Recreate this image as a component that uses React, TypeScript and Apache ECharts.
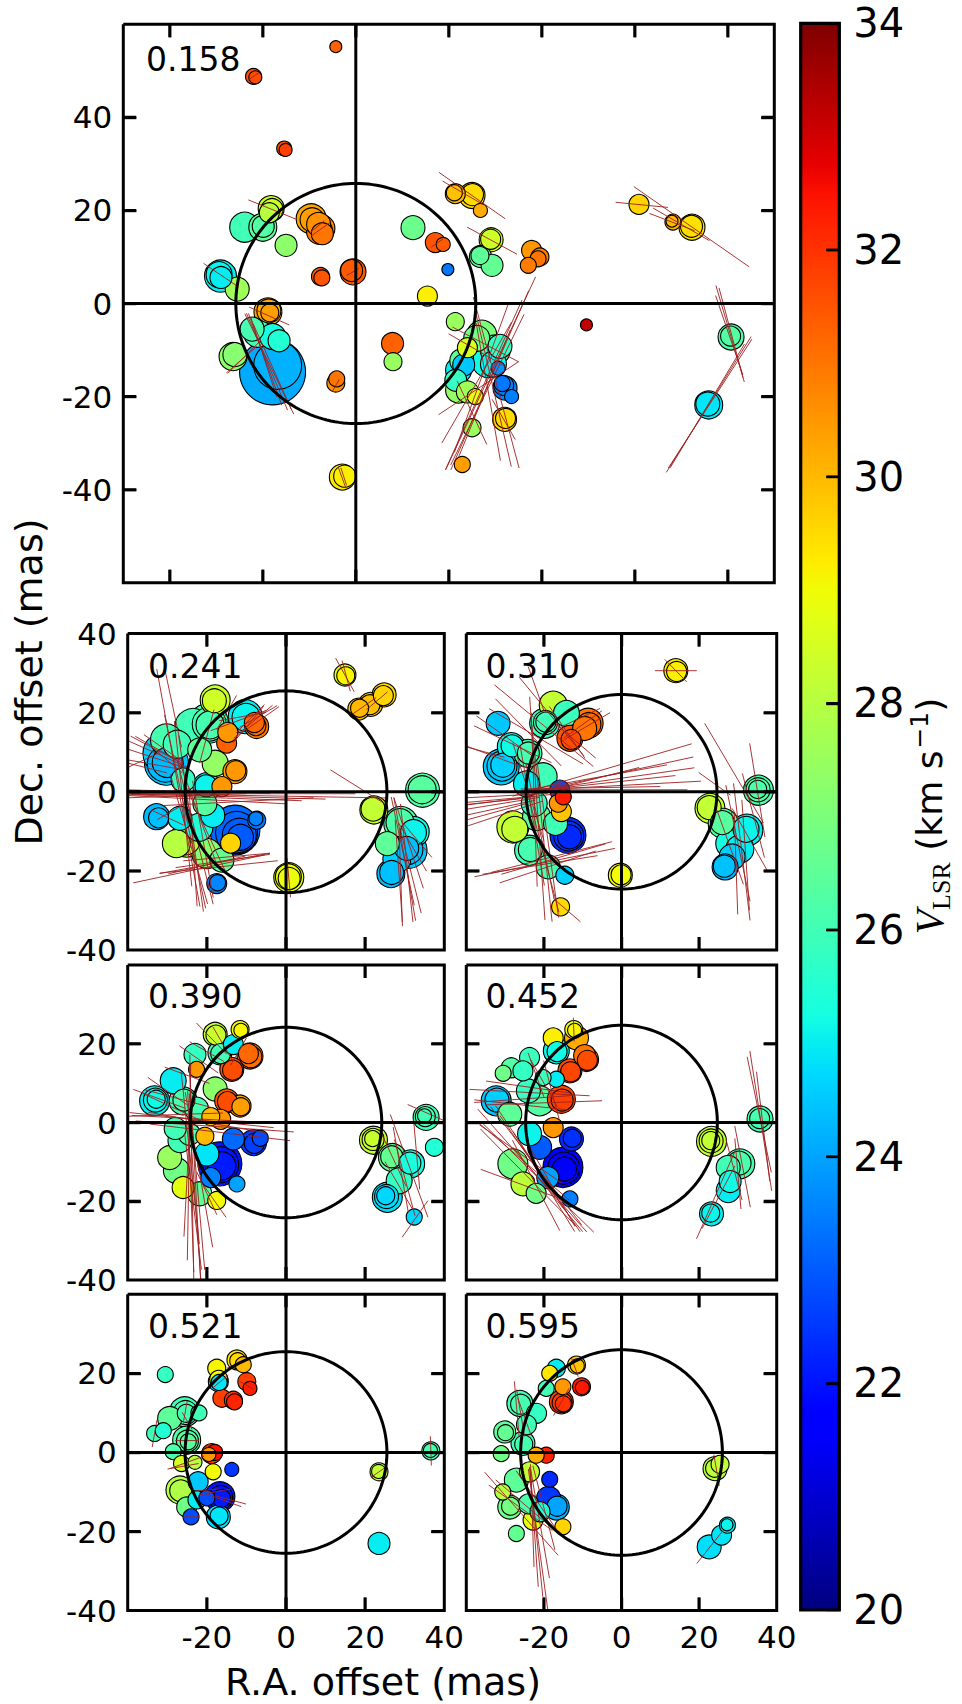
import React, { useEffect, useRef } from 'react';
import * as echarts from 'echarts';

// ---------- DATA ----------
// spot: [RA offset (mas), Dec offset (mas), V_LSR (km/s), relative flux size]
// vector: [RA, Dec, position angle (deg, data frame), length (mas)]
const epochs = ['0.158', '0.241', '0.310', '0.390', '0.452', '0.521', '0.595'];
const ringRadii = [25.8, 25.5, 24.6, 24.2, 24.7, 25.5, 26.0];
const vColorTicks = [20, 22, 24, 26, 28, 30, 32, 34];

const spots158 = [
  [-4.3, 55.2, 31.3, 6], [-22.0, 48.8, 31.6, 8], [-21.6, 48.6, 31.6, 6.5], [-15.4, 33.3, 31.6, 7.5], [-15.1, 33.0, 31.8, 6.5],
  [-18.2, 20.4, 28.3, 13], [-18.0, 20.2, 28.4, 11], [-18.6, 19.5, 28.0, 10], [-23.9, 16.4, 26.0, 15], [-20.0, 16.4, 26.5, 14],
  [-19.9, 16.6, 26.3, 11], [-15.0, 12.5, 27.3, 11], [-9.6, 18.2, 30.3, 15], [-9.4, 18.0, 30.4, 12], [-7.5, 16.1, 30.8, 14],
  [-7.8, 15.5, 30.9, 13], [-8.0, 17.0, 30.6, 12], [-7.2, 15.0, 31.0, 11], [-29.1, 5.9, 25.0, 16], [-29.4, 6.2, 25.1, 13],
  [-29.0, 5.6, 25.0, 11], [-25.5, 3.1, 27.6, 12], [-18.9, -1.8, 30.3, 14], [-18.7, -1.6, 30.2, 12], [-18.5, -2.0, 30.4, 9],
  [-7.6, 5.8, 31.4, 9], [-7.3, 5.5, 31.5, 8], [-0.6, 6.8, 31.4, 13], [-0.9, 7.1, 31.4, 11], [12.3, 16.3, 26.7, 12],
  [17.1, 13.1, 31.5, 10], [18.8, 12.7, 31.4, 7], [19.8, 7.3, 23.4, 6], [15.4, 1.6, 29.2, 10], [21.4, 23.6, 30.0, 10],
  [21.2, 23.8, 29.9, 8], [25.0, 23.2, 29.5, 13], [25.1, 23.4, 29.5, 11], [26.8, 20.0, 30.2, 7], [29.1, 13.7, 28.4, 12],
  [29.0, 13.8, 28.4, 10], [26.8, 10.1, 26.5, 11], [26.7, 10.3, 26.5, 9], [29.3, 8.2, 26.6, 11], [37.8, 11.4, 30.5, 10],
  [39.6, 10.0, 30.9, 9], [39.2, 9.6, 31.0, 8], [37.1, 8.2, 30.9, 8], [60.9, 21.3, 29.6, 10], [68.2, 17.5, 30.1, 8],
  [68.0, 17.7, 30.0, 6], [72.3, 16.4, 29.4, 13], [72.2, 16.6, 29.4, 11], [49.6, -4.6, 33.2, 6], [80.7, -7.2, 26.2, 13],
  [80.6, -7.0, 26.3, 10], [75.9, -21.8, 24.9, 14], [75.7, -21.6, 24.9, 12], [21.4, -3.9, 27.5, 9],
  [27.1, -6.8, 27.0, 15], [26.0, -7.5, 26.8, 13], [30.0, -10.0, 26.0, 15], [31.0, -9.2, 25.8, 12], [24.0, -9.5, 28.6, 10],
  [22.8, -12.3, 26.5, 12], [28.5, -12.5, 25.2, 16], [29.6, -13.0, 25.1, 13], [22.1, -14.3, 25.0, 13], [23.2, -13.2, 24.5, 11],
  [21.5, -16.5, 25.8, 11], [22.1, -18.6, 27.4, 13], [24.0, -19.0, 27.6, 11], [25.7, -20.0, 28.8, 8], [30.6, -13.9, 23.8, 7],
  [32.1, -18.2, 23.6, 12], [31.8, -17.6, 23.5, 10], [31.5, -17.2, 23.4, 8], [33.5, -20.0, 23.5, 7], [32.0, -24.9, 29.6, 12],
  [32.2, -24.7, 29.5, 10], [25.0, -26.7, 27.5, 9], [22.9, -34.6, 30.4, 8],
  [-26.4, -11.4, 27.3, 14], [-26.0, -11.0, 27.2, 12], [-21.1, -6.4, 26.0, 14], [-22.3, -5.5, 26.1, 12], [-17.9, -7.1, 25.3, 13],
  [-16.5, -8.0, 25.5, 11], [-17.9, -14.7, 24.1, 33], [-16.8, -13.3, 24.2, 24], [-4.3, -17.1, 30.6, 9], [-4.1, -16.2, 31.0, 8],
  [7.9, -8.6, 31.3, 11], [8.0, -12.5, 27.5, 9], [-2.9, -37.3, 29.3, 13], [-2.4, -37.1, 29.2, 11],
];
const vec158 = [
  [-29, 6.1, -34, 9], [-18, 20.2, -22, 11], [-18.6, -2.7, -24, 9.4], [-19.1, -12.5, -67, 22.6], [-19.5, -12.0, -70, 21],
  [-18.6, -13.0, -64, 24], [-19.8, -11.5, -72, 18], [-18.0, -13.5, -66, 20], [-24.6, -12.1, 41, 8.6], [-24.0, -11.5, 45, 10],
  [-8.3, 16.5, 40, 4], [-7.5, 16, 35, 5], [-22, 48.8, 35, 3], [-0.6, 6.8, 30, 3], [17.5, 13, 35, 3],
  [-3, -37.3, -70, 4.5], [-2.6, -37.2, -72, 4], [-4.3, -17.6, 60, 3],
  [29, -15, 65, 45.7], [27.5, -17.5, 65.7, 40], [27.7, -19.3, 67.8, 29.4], [28.3, -18.5, 64, 36], [28.8, -16.5, 66.5, 42],
  [26.4, -18.2, 33.5, 20.6], [27.9, -8.8, -27.7, 16.1], [26.0, -10.0, -30, 14], [29.5, -18, -77, 35], [30.2, -17, -75, 38],
  [28.5, -19, -80, 30], [25, -23.5, -65, 15], [31.8, -24.9, -60, 10], [27, -16, 70, 34], [26, -17, 60, 30],
  [75.9, -21.7, 58, 34.4], [76.2, -21.5, 57, 33], [75.6, -22, 59, 31], [80.5, -6.5, -73.6, 21.6], [80.7, -6.3, -75, 20],
  [80.3, -6.8, -71, 18], [61.5, 21.2, -5.6, 11.3], [72.2, 16.5, -34.8, 30.2], [68, 17.5, -21, 10.4], [70, 17, -30, 14],
  [25, 23.2, -35, 17.4], [23, 23.8, -30, 10], [29.3, 13.5, -28.5, 12.2],
];

const spots241 = [
  [14.9, 29.5, 29.0, 11], [15.1, 29.3, 29.1, 9], [18.4, 20.9, 29.9, 11], [18.6, 21.1, 30.0, 9], [21.4, 22.1, 29.8, 12],
  [21.2, 22.0, 29.9, 10], [24.8, 24.5, 29.5, 12], [24.6, 24.3, 29.6, 10], [34.5, 0.4, 26.3, 17], [34.4, 0.5, 26.4, 14],
  [22.2, -4.6, 28.3, 14], [22.0, -4.4, 28.2, 12], [29.0, -8.0, 26.3, 17], [28.8, -7.8, 26.2, 14], [32.4, -10.1, 25.2, 15],
  [32.2, -10.3, 25.1, 13], [31.1, -14.8, 24.5, 18], [30.8, -14.6, 24.4, 15], [30.5, -14.3, 24.4, 12], [26.5, -20.7, 24.3, 14],
  [26.7, -20.4, 24.4, 12], [25.6, -13.1, 26.5, 12], [28.0, -17.0, 24.6, 14], [0.7, -21.7, 28.8, 15], [0.6, -21.5, 28.9, 13],
  [0.8, -21.9, 28.9, 11], [-12.9, -9.7, 23.2, 25], [-12.5, -10.3, 23.1, 21], [-11.8, -11.0, 23.0, 17], [-11.5, -11.5, 23.0, 13],
  [-7.4, -7.2, 23.4, 9], [-7.6, -6.8, 23.5, 7], [-32.7, -6.3, 24.3, 13], [-32.2, -6.6, 24.4, 10], [-26.8, -6.7, 25.0, 12],
  [-25.1, -12.2, 27.8, 17], [-25.3, -12.4, 27.9, 14], [-27.7, -13.1, 28.0, 14], [-20.0, -15.6, 27.2, 15], [-16.2, -17.3, 26.6, 12],
  [-17.5, -23.2, 23.5, 10], [-17.3, -23.0, 23.6, 8], [-22.0, -9.0, 25.5, 14], [-18.5, -6.0, 25.0, 12], [-20.5, -3.0, 26.4, 12],
  [-30.2, 7.2, 24.4, 22], [-30.5, 7.0, 24.3, 18], [-30.0, 7.4, 24.3, 15], [-31.1, 9.7, 24.6, 20], [-30.2, 13.1, 26.1, 16],
  [-27.5, 12.0, 26.0, 14], [-23.5, 16.5, 26.0, 18], [-17.9, 23.2, 28.3, 15], [-18.1, 23.0, 28.4, 12], [-19.6, 17.3, 26.0, 20],
  [-19.4, 17.1, 26.1, 17], [-19.2, 16.9, 26.1, 14], [-10.3, 19.0, 25.0, 17], [-10.1, 18.8, 25.1, 14], [-7.4, 16.5, 31.0, 12],
  [-7.6, 16.7, 31.1, 10], [-8.0, 17.5, 31.2, 10], [-15.0, 12.3, 31.3, 10], [-14.7, 15.0, 30.5, 10], [-12.9, 5.1, 30.4, 12],
  [-12.7, 5.3, 30.5, 10], [-17.9, 7.2, 27.4, 13], [-20.0, 1.3, 25.0, 14], [-20.2, 1.5, 25.1, 11], [-16.2, 1.3, 30.5, 10],
  [-21.8, 10.6, 26.5, 12], [-26.0, 3.0, 25.8, 12], [-14.0, -13.0, 29.6, 10],
];
const vec241 = [
  [-7, -1.0, -1, 65], [-10, -0.5, 0, 55], [-18, -1.5, -2, 44], [-22, 0, -1.5, 36], [-25, -1.0, 2, 30], [-20, -2, -3, 40],
  [-15, -1.2, -1.5, 50], [-28, -0.5, 1, 22], [-12, -2.5, 3, 38],
  [-27.2, 1, -79.7, 61], [-25.5, -5, -78, 50], [-24, -8, -82, 45], [-23, -10, -76, 38], [-26, -3, -84, 42], [-21, -12, -80, 30],
  [-22, -6, -70, 28], [-24.5, -12, -74, 34], [-23.5, -14, -86, 30], [-20.5, -9, -65, 24],
  [-32.3, 9.5, -24, 16], [-33, 8.5, -18, 18], [-32, 10.5, -30, 14], [-34, 7, -10, 14], [-31, 11, -35, 12],
  [-33.5, 11, -28, 13], [-35, 6, -14, 10], [-30, 8, -40, 10],
  [-28.5, 21, -78, 20], [-8, 18, 40, 12], [-7.5, 17.5, 35, 14], [-9, 18.5, 45, 10], [-7, 19, 30, 11], [-12, 18, 20, 15],
  [-9.5, 17, 50, 12], [-11, 19, 10, 12], [-15, 20, 60, 10], [-20, 14, 75, 14],
  [-18, -18.1, 10.4, 28.4], [-16, -17.5, 8, 24], [-20, -18.5, 13, 20], [-15, -16.5, 5, 22], [-22, -19.5, 12, 34], [-17, -19, 6, 30],
  [18, 1.3, -32, 16], [30, -17, -80, 31.7],
  [29.5, -15, -78, 28], [30.5, -18, -84, 30], [31, -13, -72, 24], [28.5, -20, -86, 26], [32, -14, -60, 14],
  [29, -22, -88, 24], [31.5, -20, -76, 22], [33, -12, -50, 12],
  [14.9, 29.5, -61, 9.7], [15.2, 29.3, -75, 8], [19.5, 21.5, 35, 8], [23, 23, 40, 7], [0.7, -21.7, -85, 10],
  [-30, -6.5, -25, 9], [-29, -5, 30, 8], [-36, 8, 25, 9],
];

const spots310 = [
  [14.0, 30.6, 29.3, 12], [14.2, 30.4, 29.2, 10], [35.3, 0.4, 26.2, 15], [35.2, 0.5, 26.3, 12], [35.1, 0.6, 26.2, 9],
  [22.8, -4.2, 28.3, 15], [22.6, -4.0, 28.2, 12], [26.2, -8.0, 26.3, 15], [26.0, -7.8, 26.4, 12], [32.3, -9.7, 25.0, 16],
  [32.1, -9.5, 25.1, 13], [27.9, -13.1, 25.3, 14], [30.5, -14.5, 25.0, 14], [28.5, -16.5, 24.6, 13], [26.7, -19.0, 24.3, 13],
  [26.5, -18.8, 24.4, 11], [-0.3, -21.1, 29.1, 12], [-0.1, -21.0, 29.0, 10], [-15.7, -29.1, 29.5, 9], [-14.6, -21.1, 24.6, 9],
  [-13.8, -11.0, 22.4, 18], [-13.6, -11.2, 22.4, 15], [-13.4, -11.4, 22.3, 12], [-15.9, 0.4, 22.8, 10], [-15.0, -1.3, 32.3, 8],
  [-16.3, -2.9, 30.5, 9], [-28.0, -8.9, 28.3, 16], [-27.5, -9.5, 28.2, 13], [-23.7, -14.8, 26.1, 15], [-23.5, -14.6, 26.1, 12],
  [-18.9, -19.0, 26.1, 12], [-21.9, -6.3, 26.5, 14], [-22.5, -3.0, 25.8, 13], [-31.8, 17.3, 24.5, 12], [-28.4, 11.4, 25.1, 14],
  [-28.2, 11.6, 25.2, 11], [-31.0, 6.3, 24.5, 18], [-30.8, 6.5, 24.5, 15], [-30.6, 6.7, 24.6, 12], [-24.1, 9.7, 26.0, 14],
  [-24.0, 9.8, 26.1, 11], [-19.8, 17.3, 25.9, 15], [-19.6, 17.5, 26.0, 12], [-19.5, 17.6, 26.0, 10], [-17.6, 21.9, 28.2, 14],
  [-14.2, 19.8, 25.9, 13], [-8.6, 17.3, 31.0, 15], [-8.4, 17.0, 31.2, 12], [-9.5, 16.0, 31.0, 12], [-13.3, 13.5, 31.5, 13],
  [-13.0, 13.2, 31.6, 10], [-20.2, 3.8, 26.0, 14], [-24.5, 2.0, 25.0, 13], [-17.0, -8.0, 26.0, 12], [-15.5, -5.0, 29.8, 10],
];
const vec310 = [
  [-3, 3, 8, 44], [-4, 4, 12, 46], [-6, 2, 6, 40], [-2, 1.5, 3, 45], [-8, 1, 1, 36], [-5, 5.5, 16, 48],
  [-7, 3.5, 10, 38], [-10, 2.5, 14, 30], [-4, 0.5, 0, 42],
  [-32, -2, 5, 18], [-31, -3, 9, 20], [-30, -1, 3, 22], [-31, -4, 12, 18], [-32, -5, 15, 16], [-33, -2.5, 6, 14],
  [-30, -5.5, 18, 20], [-29, -2, 7, 24],
  [-19.8, -17.9, 11.2, 36.9], [-18, -16.5, 14, 32], [-21, -18.5, 9, 30], [-17.5, -17, 16, 28], [-19, -19, 18, 26],
  [-21.7, -4.2, -86, 56.6], [-20.5, -8, -84, 50], [-22.5, -2, -88, 44], [-19, -12, -82, 40], [-21, -10, -78, 35],
  [-23, -6, -80, 36], [-20, -16, -75, 30], [-24, 0, -72, 26],
  [-20, 16.7, -39, 32.8], [-22, 14, -30, 28], [-28, 12, -25, 22], [-33, 9, -20, 16], [-18, 19, -50, 26],
  [-24, 15, -45, 24], [-30, 14, -35, 18], [-35, 10, -15, 10],
  [-10, 17, 35, 12], [-9, 16.5, 30, 14], [-12, 13, -40, 14], [-22, 26, -70, 12], [-11, 18.5, 25, 12], [-14, 15, -55, 16],
  [29, 4.7, -59, 29.4], [35, 0.4, -80.6, 24], [31, -15.2, -83, 34.9], [30, -13, -78, 30], [32, -16, -86, 28],
  [28, -14, -70, 20], [33, -12, -60, 18], [29.5, -18, -88, 26], [34, -6, -75, 22],
  [14, 30.6, 0, 10.8], [14, 30.6, -45, 8], [-14, -30, -40, 9], [24, 2, -35, 10],
];

const spots390 = [
  [-11.6, 23.6, 29.0, 9], [-11.4, 23.4, 29.1, 7], [-17.9, 22.4, 28.2, 12], [-17.7, 22.2, 28.3, 10], [-16.7, 17.7, 25.9, 12],
  [-16.5, 17.5, 26.0, 10], [-23.0, 17.3, 25.8, 11], [-13.3, 19.8, 25.0, 10], [-9.1, 16.9, 31.0, 13], [-8.9, 16.7, 31.1, 11],
  [-9.5, 17.5, 31.2, 10], [-13.7, 13.5, 31.5, 12], [-13.5, 13.3, 31.6, 10], [-22.6, 13.5, 30.5, 8], [-28.5, 10.6, 25.0, 13],
  [-33.2, 5.5, 25.0, 15], [-33.0, 5.7, 25.1, 12], [-32.8, 5.9, 25.2, 9], [-26.0, 5.5, 26.0, 14], [-25.8, 5.7, 26.1, 11],
  [-17.9, 8.5, 27.3, 12], [-22.6, 3.4, 26.1, 12], [-15.0, 5.5, 31.5, 12], [-14.8, 5.3, 31.6, 10], [-11.6, 4.2, 30.3, 11],
  [-11.4, 4.0, 30.4, 9], [-16.5, 0.8, 30.5, 10], [-19.0, 1.5, 30.0, 9], [-13.3, -4.2, 23.2, 11], [-8.2, -5.1, 22.5, 13],
  [-8.0, -5.3, 22.6, 10], [-6.5, -4.0, 22.8, 8], [-16.7, -10.5, 22.0, 22], [-16.5, -10.7, 22.0, 18], [-16.2, -11.0, 22.1, 14],
  [-12.4, -15.6, 24.0, 8], [-29.4, -8.9, 27.5, 12], [-26.0, -16.5, 28.8, 11], [-27.7, -12.2, 26.8, 13], [-21.8, -18.1, 26.5, 12],
  [-17.5, -19.8, 29.0, 9], [-20.0, -8.0, 24.9, 12], [-26.8, -4.6, 26.0, 12], [-24.4, -3.0, 26.2, 11], [-28.0, -1.5, 26.0, 11],
  [-20.5, -3.5, 30.0, 9], [-19.0, -14.0, 23.5, 10], [22.1, -4.5, 28.3, 14], [22.0, -4.3, 28.2, 11], [21.9, -4.1, 28.3, 8],
  [26.9, -8.9, 26.5, 14], [26.7, -8.7, 26.6, 11], [31.5, -10.5, 25.2, 14], [31.3, -10.3, 25.3, 11], [28.6, -14.8, 25.8, 13],
  [25.6, -19.0, 24.8, 15], [25.4, -18.8, 24.8, 12], [25.2, -18.6, 24.7, 9], [32.4, -24.0, 24.7, 8], [35.4, 1.3, 26.0, 13],
  [35.2, 1.5, 26.1, 10], [35.0, 1.7, 26.0, 7], [37.5, -6.3, 25.5, 9],
];
const vec390 = [
  [-23.8, -11.3, -89, 57], [-23.0, -13, -87, 54], [-24.5, -10, -91, 50], [-22.5, -15, -85, 45], [-24, -18, -88, 40],
  [-23.5, -20, -83, 35], [-22, -12, -80, 40], [-25, -14, -93, 30], [-23.2, -16, -86, 48], [-24.2, -9, -84, 44],
  [-21.3, 0.6, -6, 36.6], [-16.7, -2.5, -6.8, 35.7], [-24, 1, -3, 30], [-20, 0, -10, 30], [-28, 2, 2, 24], [-18, -1, -4, 40],
  [-18.8, 21.3, -46, 11], [-20, 18, -30, 10], [-25, 12, -20, 12], [-12, 18, 60, 8], [-16, 20, -60, 10], [-22, 16, -35, 12],
  [-32, 6, -20, 14], [-30, 8, -35, 12], [-27, 6, -15, 18], [-29, 4, -25, 16],
  [31.1, -11, -70, 27.8], [32.6, -24.5, 55, 11.3], [35.4, 2.5, -24, 10.2], [29, -12, -80, 22], [30, -14, -75, 20],
  [27, -9, -65, 16], [33, -8, -85, 18], [28.5, -16, -60, 14], [-18, -20, -55, 10], [-20, -18, -65, 12],
];

const spots452 = [
  [-12.3, 23.6, 29.0, 9], [-12.1, 23.4, 29.1, 7], [-17.6, 21.5, 29.2, 10], [-11.6, 21.5, 30.2, 12], [-9.0, 16.0, 31.5, 12],
  [-8.8, 15.8, 31.6, 10], [-9.5, 17.0, 31.0, 11], [-13.3, 13.1, 31.6, 12], [-13.1, 12.9, 31.7, 10], [-16.8, 18.2, 25.1, 13],
  [-16.6, 18.0, 25.2, 10], [-23.7, 16.5, 25.9, 10], [-28.4, 13.9, 26.3, 10], [-30.5, 12.5, 26.8, 8], [-25.4, 13.1, 25.8, 10],
  [-16.8, 11.0, 25.0, 8], [-20.2, 11.4, 25.9, 8], [-15.5, 5.9, 31.7, 14], [-15.3, 5.7, 31.8, 11], [-32.3, 5.5, 24.5, 15],
  [-32.1, 5.7, 24.6, 12], [-21.1, 5.5, 26.3, 15], [-28.8, 2.1, 26.5, 12], [-24.0, 8.0, 25.8, 12], [-17.6, -1.3, 30.5, 10],
  [-12.9, -4.2, 22.3, 12], [-12.7, -4.0, 22.4, 9], [-21.1, -6.3, 23.0, 12], [-15.1, -11.4, 21.5, 20], [-14.9, -11.6, 21.5, 16],
  [-14.7, -11.8, 21.6, 12], [-28.0, -10.5, 26.8, 15], [-25.4, -15.6, 28.1, 12], [-22.0, -18.0, 26.8, 10], [-13.3, -19.4, 23.5, 8],
  [-23.7, -2.9, 25.1, 12], [-19.0, -14.0, 24.0, 11], [23.2, -4.8, 28.2, 15], [23.1, -4.7, 28.3, 12], [23.0, -4.6, 28.2, 9],
  [30.5, -10.5, 26.1, 15], [30.3, -10.3, 26.2, 12], [27.5, -11.4, 26.0, 12], [27.5, -17.3, 25.0, 12], [28.0, -15.0, 25.2, 11],
  [23.2, -23.2, 25.0, 12], [23.0, -23.0, 25.1, 9], [35.7, 0.9, 26.0, 13], [35.6, 1.0, 26.1, 10],
];
const vec452 = [
  [35.9, 0.4, -81, 36], [35.5, 2, -78, 30], [36.5, -1, -83, 28], [31.2, -11.2, -79, 21], [30, -13, -85, 18], [29, -12, -75, 16],
  [24.3, -18.4, 66, 24.4], [25, -19, 62, 18], [-23, -12.2, -48, 42], [-22, -11, -52, 38], [-24, -14, -45, 35], [-21, -13, -55, 36],
  [-20, -15, -58, 30], [-25, -10, -40, 30], [-19, -17, -50, 28], [-22, -16, -62, 26], [-21.5, -14, -44, 40], [-23.5, -9, -56, 32],
  [-18, -16, -60, 24], [-26, -8, -35, 26], [-23.7, 7.6, -3, 31], [-25, 6, 4, 26],
  [-26, 4.5, -6, 24], [-20, 5, 2, 30], [-24, 9, -8, 22], [-12.3, 23.6, -88, 6], [-20, 10, -60, 14], [-22, 12, -70, 12],
  [-25, -16, -20, 24], [-18, 8, -75, 16],
];

const spots521 = [
  [-30.5, 19.7, 25.8, 8], [-17.5, 21.3, 29.1, 9], [-12.4, 23.4, 29.3, 10], [-12.2, 23.2, 29.5, 8], [-10.8, 22.2, 30.0, 8],
  [-17.1, 17.9, 24.8, 10], [-16.9, 17.7, 24.9, 8], [-17.0, 18.5, 29.0, 9], [-9.9, 17.9, 31.8, 9], [-9.1, 16.2, 32.3, 7],
  [-16.2, 13.7, 31.8, 9], [-13.3, 13.2, 32.0, 9], [-13.0, 12.8, 32.2, 8], [-25.6, 10.3, 26.0, 15], [-25.4, 10.1, 26.1, 12],
  [-25.2, 9.9, 26.1, 9], [-29.4, 8.6, 26.5, 12], [-22.0, 10.0, 26.0, 8], [-33.2, 4.8, 26.0, 8], [-31.0, 5.5, 25.5, 8],
  [-25.1, 3.1, 26.3, 14], [-24.9, 2.9, 26.4, 11], [-24.7, 2.7, 26.4, 8], [-28.5, 0.2, 26.2, 8], [-18.8, -0.3, 32.0, 10],
  [-18.0, 0.0, 32.5, 8], [-19.5, -0.5, 30.5, 7], [-26.4, -2.8, 28.5, 8], [-23.0, -2.5, 28.0, 7], [-18.4, -4.9, 29.0, 8],
  [-13.7, -4.3, 22.5, 7], [-22.2, -7.4, 24.5, 10], [-26.8, -9.5, 28.0, 14], [-26.6, -9.7, 27.9, 11], [-16.7, -11.2, 22.0, 15],
  [-16.5, -11.4, 22.0, 12], [-16.3, -11.6, 22.1, 9], [-20.0, -11.5, 22.8, 8], [-25.1, -13.8, 26.8, 10], [-17.1, -16.3, 24.8, 12],
  [-16.9, -16.1, 24.9, 9], [-24.0, -16.3, 22.8, 8], [-22.5, -12.0, 25.0, 9], [23.5, -4.9, 28.3, 9], [23.4, -4.8, 28.2, 7],
  [36.6, 0.4, 26.0, 9], [36.5, 0.5, 26.1, 7], [23.5, -23.0, 25.0, 11],
];
const vec521 = [
  [-25, -2.5, 20, 9], [-26, -3.5, 10, 8], [-25.5, 10, 80, 6], [-25, 8, -60, 5], [-33.2, 4.8, 80, 7], [-25, 3, 0, 6],
  [-18, -10, 10, 8], [-16, -12, -20, 10], [-14, -12, -15, 8], [-20, -9.5, 5, 6], [-24, -16.3, 0, 4], [-12, 22.5, 20, 6],
  [-16.5, 18, 40, 5], [-10, 17, -30, 4], [36.6, 0.4, -88, 7.4], [23.5, -4.9, 35, 5],
];

const spots595 = [
  [-11.6, 22.1, 29.7, 9], [-11.4, 21.9, 29.8, 7], [-16.8, 21.3, 25.0, 9], [-18.5, 20.0, 29.3, 8], [-10.3, 16.6, 32.3, 9],
  [-10.1, 16.4, 32.4, 7], [-15.1, 16.6, 30.5, 8], [-19.4, 16.2, 26.0, 8], [-15.5, 12.8, 31.8, 12], [-15.3, 12.6, 31.9, 10],
  [-15.0, 12.3, 32.0, 8], [-26.2, 12.4, 26.0, 13], [-26.0, 12.2, 26.1, 10], [-21.9, 9.9, 25.8, 10], [-24.5, 7.0, 26.0, 10],
  [-30.1, 5.2, 26.5, 11], [-29.9, 5.0, 26.6, 8], [-25.4, 2.3, 26.0, 12], [-25.2, 2.1, 26.1, 9], [-31.0, -0.3, 26.8, 8],
  [-19.4, -0.7, 32.2, 8], [-22.0, -0.7, 30.2, 8], [-23.7, -4.9, 28.2, 10], [-18.5, -6.8, 22.3, 8], [-27.1, -7.0, 26.5, 12],
  [-16.8, -13.8, 24.2, 13], [-16.6, -13.6, 24.0, 10], [-18.8, -11.6, 22.5, 12], [-28.8, -13.8, 26.8, 12], [-28.6, -13.6, 26.9, 9],
  [-22.8, -17.1, 28.8, 10], [-27.1, -20.5, 26.6, 8], [-15.1, -18.8, 29.6, 8], [-30.6, -10.0, 28.0, 8], [-24.0, -13.0, 26.2, 10],
  [-21.0, -15.0, 25.5, 10], [24.1, -4.1, 28.0, 12], [24.0, -4.0, 28.1, 9], [25.4, -3.0, 28.2, 9], [27.3, -18.4, 25.0, 8],
  [27.2, -18.3, 25.1, 6], [25.8, -20.9, 24.9, 10], [22.6, -23.9, 24.8, 12],
];
const vec595 = [
  [-22, -20.1, -84, 33], [-21.5, -22, -82, 36], [-22.5, -19, -86, 30], [-21, -18, -80, 28], [-23, -16, -88, 26],
  [-25.8, -15.5, -48, 28.3], [-24, -14, -40, 22], [-26, -14, -35, 20], [-22, -12, -55, 18], [-26, 10, -80, 12],
  [-25, 9, -70, 10], [-27, 11, -85, 14], [22.8, -23.9, 51, 10.8], [24.5, -4.5, -80, 8], [-15.5, 12.8, 60, 8],
  [-12, 21.5, -70, 5], [-20, -14, -75, 22],
];

const allSpots = [spots158, spots241, spots310, spots390, spots452, spots521, spots595];
const allVecs = [vec158, vec241, vec310, vec390, vec452, vec521, vec595];

// ---------- LAYOUT ----------
const FONT = 'DejaVu Sans';
const VMIN = 20, VMAX = 34;
const TICK = 13;
const layout = [
  { box: [123.3, 24.3, 651, 558.4], x: [-50, 90], y: [-60, 60], xT: [-40, -20, 0, 20, 40, 60, 80], yT: [-40, -20, 0, 20, 40], xL: null, yL: [-40, -20, 0, 20, 40], lab: [146, 59] },
  { box: [127.7, 633.5, 316.6, 316.5], x: [-40, 40], y: [-40, 40], xT: [-20, 0, 20], yT: [-20, 0, 20], xL: null, yL: [-40, -20, 0, 20, 40], lab: [148, 666] },
  { box: [466.3, 633.5, 310.4, 316.5], x: [-40, 40], y: [-40, 40], xT: [-20, 0, 20], yT: [-20, 0, 20], xL: null, yL: null, lab: [485.5, 666] },
  { box: [127.7, 965, 316.6, 315], x: [-40, 40], y: [-40, 40], xT: [-20, 0, 20], yT: [-20, 0, 20], xL: null, yL: [-40, -20, 0, 20], lab: [148, 996] },
  { box: [466.3, 965, 310.4, 315], x: [-40, 40], y: [-40, 40], xT: [-20, 0, 20], yT: [-20, 0, 20], xL: null, yL: null, lab: [485.5, 996] },
  { box: [127.7, 1294.3, 316.6, 316.3], x: [-40, 40], y: [-40, 40], xT: [-20, 0, 20], yT: [-20, 0, 20], xL: [-20, 0, 20, 40], yL: [-40, -20, 0, 20], lab: [148, 1326] },
  { box: [466.3, 1294.3, 310.4, 316.3], x: [-40, 40], y: [-40, 40], xT: [-20, 0, 20], yT: [-20, 0, 20], xL: [-20, 0, 20, 40], yL: null, lab: [485.5, 1326] },
];
const cbBox = [800.7, 23.3, 38.6, 1586.7];

// matplotlib "jet"
const JR = [[0, 0], [0.35, 0], [0.66, 1], [0.89, 1], [1, 0.5]];
const JG = [[0, 0], [0.125, 0], [0.375, 1], [0.64, 1], [0.91, 0], [1, 0]];
const JB = [[0, 0.5], [0.11, 1], [0.34, 1], [0.65, 0], [1, 0]];
function seg(t: number, pts: number[][]) {
  for (let i = 1; i < pts.length; i++) {
    if (t <= pts[i][0]) {
      const [t0, v0] = pts[i - 1], [t1, v1] = pts[i];
      return v0 + ((t - t0) / (t1 - t0)) * (v1 - v0);
    }
  }
  return pts[pts.length - 1][1];
}
function jetT(t: number) {
  const c = Math.max(0, Math.min(1, t));
  return `rgb(${Math.round(seg(c, JR) * 255)},${Math.round(seg(c, JG) * 255)},${Math.round(seg(c, JB) * 255)})`;
}
const jet = (v: number) => jetT((v - VMIN) / (VMAX - VMIN));

function combPoints(api: any, p: any) {
  const pts: number[][] = [];
  const [x0, x1] = p.x, [y0, y1] = p.y;
  pts.push(api.coord([x0, y1]));
  p.xT.forEach((v: number) => { const c = api.coord([v, y1]); pts.push(c, [c[0], c[1] + TICK], c); });
  pts.push(api.coord([x1, y1]));
  [...p.yT].reverse().forEach((v: number) => { const c = api.coord([x1, v]); pts.push(c, [c[0] - TICK, c[1]], c); });
  pts.push(api.coord([x1, y0]));
  [...p.xT].reverse().forEach((v: number) => { const c = api.coord([v, y0]); pts.push(c, [c[0], c[1] - TICK], c); });
  pts.push(api.coord([x0, y0]));
  p.yT.forEach((v: number) => { const c = api.coord([x0, v]); pts.push(c, [c[0] + TICK, c[1]], c); });
  pts.push(api.coord([x0, y1]));
  return pts;
}

function buildOption() {
  const grid: any[] = [], xAxis: any[] = [], yAxis: any[] = [], series: any[] = [];
  const lab = { color: '#000', fontSize: 31, fontFamily: FONT };
  const tickStyle = { show: true, inside: true, length: TICK, lineStyle: { color: '#000', width: 2.4 } };
  const helper = (gi: number, lo: number, hi: number) => ({ type: 'value', gridIndex: gi, min: lo, max: hi, show: false });

  layout.forEach((p, i) => {
    grid.push({ left: p.box[0], top: p.box[1], width: p.box[2], height: p.box[3], show: false, containLabel: false, outerBoundsMode: 'none' });
    const xb = xAxis.length, yb = yAxis.length;
    // main axes (labels only)
    xAxis.push({
      type: 'value', gridIndex: i, position: 'bottom', min: p.x[0], max: p.x[1],
      axisLine: { show: false, onZero: false }, splitLine: { show: false }, axisTick: { show: false },
      axisLabel: p.xL ? { ...lab, margin: 11, customValues: p.xL } : { show: false },
    });
    yAxis.push({
      type: 'value', gridIndex: i, position: 'left', min: p.y[0], max: p.y[1],
      axisLine: { show: false, onZero: false }, splitLine: { show: false }, axisTick: { show: false },
      axisLabel: p.yL ? { ...lab, margin: 11, customValues: p.yL } : { show: false },
    });
    // hidden helper axes whose zero sits on a frame edge
    xAxis.push(helper(i, 0, 1));   // xb+1 : zero at left edge
    xAxis.push(helper(i, -1, 0));  // xb+2 : zero at right edge
    yAxis.push(helper(i, 0, 1));   // yb+1 : zero at bottom edge
    yAxis.push(helper(i, -1, 0));  // yb+2 : zero at top edge
    // tick-only axes pinned to the frame edges through onZero
    const tx = (pos: string, zi: number) => ({
      type: 'value', gridIndex: i, position: pos, min: p.x[0], max: p.x[1], z: 8,
      axisLine: { show: false, onZero: true, onZeroAxisIndex: zi }, splitLine: { show: false },
      axisTick: { ...tickStyle, customValues: p.xT }, axisLabel: { show: false },
    });
    const ty = (pos: string, zi: number) => ({
      type: 'value', gridIndex: i, position: pos, min: p.y[0], max: p.y[1], z: 8,
      axisLine: { show: false, onZero: true, onZeroAxisIndex: zi }, splitLine: { show: false },
      axisTick: { ...tickStyle, customValues: p.yT }, axisLabel: { show: false },
    });
    xAxis.push(tx('bottom', yb + 1));
    xAxis.push(tx('top', yb + 2));
    yAxis.push(ty('left', xb + 1));
    yAxis.push(ty('right', xb + 2));

    series.push({
      type: 'scatter', xAxisIndex: xb, yAxisIndex: yb, z: 2, silent: true, clip: true,
      data: [...allSpots[i]].sort((a, b) => b[3] - a[3]),
      symbol: 'circle', symbolSize: (v: number[]) => v[3] * 2,
      itemStyle: { color: (pr: any) => jet(pr.value[2]), borderColor: '#000', borderWidth: 1.1, opacity: 1 },
    });
    series.push({
      type: 'custom', xAxisIndex: xb, yAxisIndex: yb, z: 3, silent: true, clip: true,
      data: allVecs[i],
      encode: { x: 0, y: 1 },
      renderItem: (_: any, api: any) => {
        const x = api.value(0), y = api.value(1), a = (api.value(2) * Math.PI) / 180, h = api.value(3) / 2;
        const p1 = api.coord([x - Math.cos(a) * h, y - Math.sin(a) * h]);
        const p2 = api.coord([x + Math.cos(a) * h, y + Math.sin(a) * h]);
        return { type: 'line', shape: { x1: p1[0], y1: p1[1], x2: p2[0], y2: p2[1] }, style: { stroke: 'rgba(160,32,32,0.9)', lineWidth: 1 } };
      },
    });
    series.push({
      type: 'custom', xAxisIndex: xb, yAxisIndex: yb, z: 4, silent: true, clip: false,
      data: [[0, 0, ringRadii[i]]],
      encode: { x: 0, y: 1 },
      renderItem: (_: any, api: any) => {
        const r = api.value(2);
        const pts: number[][] = [];
        for (let k = 0; k <= 180; k++) {
          const t = (k / 180) * Math.PI * 2;
          pts.push(api.coord([r * Math.cos(t), r * Math.sin(t)]));
        }
        const l = api.coord([p.x[0], 0]), rr = api.coord([p.x[1], 0]);
        const tp = api.coord([0, p.y[1]]), bt = api.coord([0, p.y[0]]);
        const ls = { stroke: '#000', lineWidth: 3, fill: 'none' };
        return {
          type: 'group', children: [
            { type: 'line', shape: { x1: l[0], y1: l[1], x2: rr[0], y2: rr[1] }, style: ls },
            { type: 'line', shape: { x1: tp[0], y1: tp[1], x2: bt[0], y2: bt[1] }, style: ls },
            { type: 'polyline', shape: { points: pts }, style: ls },
            { type: 'polyline', shape: { points: combPoints(api, p) }, style: { stroke: '#000', lineWidth: 3, fill: 'none' } },
          ],
        };
      },
    });
  });

  // colour bar
  const ci = layout.length;
  grid.push({ left: cbBox[0], top: cbBox[1], width: cbBox[2], height: cbBox[3], show: false, containLabel: false, outerBoundsMode: 'none' });
  const cxb = xAxis.length, cyb = yAxis.length;
  xAxis.push({ type: 'value', gridIndex: ci, min: 0, max: 1, show: false });
  xAxis.push(helper(ci, -1, 0)); // zero at right edge
  yAxis.push({
    type: 'value', gridIndex: ci, min: VMIN, max: VMAX, interval: 2, position: 'right', z: 8,
    axisLine: { show: false, onZero: true, onZeroAxisIndex: cxb + 1 }, splitLine: { show: false },
    axisTick: { ...tickStyle, customValues: vColorTicks },
    axisLabel: { color: '#000', fontSize: 40, fontFamily: FONT, margin: 14, customValues: vColorTicks },
  });
  const stops: any[] = [];
  for (let k = 0; k <= 56; k++) stops.push({ offset: k / 56, color: jetT(1 - k / 56) });
  series.push({
    type: 'custom', xAxisIndex: cxb, yAxisIndex: cyb, z: 2, silent: true, clip: false,
    data: [[0, VMIN]], encode: { x: 0, y: 1 },
    renderItem: (_: any, api: any) => {
      const a = api.coord([0, VMAX]), b = api.coord([1, VMIN]);
      const edge: number[][] = [api.coord([1, VMAX])];
      [...vColorTicks.slice(1, -1)].reverse().forEach((v) => { const c = api.coord([1, v]); edge.push(c, [c[0] - TICK, c[1]], c); });
      edge.push(api.coord([1, VMIN]));
      return {
        type: 'group', children: [
          { type: 'rect', shape: { x: a[0], y: a[1], width: b[0] - a[0], height: b[1] - a[1] }, style: { fill: new echarts.graphic.LinearGradient(0, 0, 0, 1, stops) } },
          { type: 'rect', shape: { x: a[0], y: a[1], width: b[0] - a[0], height: b[1] - a[1] }, style: { fill: 'none', stroke: '#000', lineWidth: 3.2 } },
          { type: 'polyline', shape: { points: edge }, style: { stroke: '#000', lineWidth: 2.4, fill: 'none' } },
        ],
      };
    },
  });

  const graphic: any[] = layout.map((p, i) => ({
    type: 'text', x: p.lab[0], y: p.lab[1], z: 10,
    style: { text: epochs[i], fontSize: 33, fontFamily: FONT, fill: '#000', align: 'left', verticalAlign: 'middle' },
  }));
  graphic.push({
    type: 'text', x: 29, y: 682, rotation: Math.PI / 2, z: 10,
    style: { text: 'Dec. offset (mas)', fontSize: 38, fontFamily: FONT, fill: '#000', align: 'center', verticalAlign: 'middle' },
  });
  graphic.push({
    type: 'text', x: 383, y: 1682, z: 10,
    style: { text: 'R.A. offset (mas)', fontSize: 38, fontFamily: FONT, fill: '#000', align: 'center', verticalAlign: 'middle' },
  });
  graphic.push({
    type: 'text', x: 929, y: 816, rotation: Math.PI / 2, z: 10,
    style: {
      text: '{v|V}{s|LSR}{n| (km s}{p|−1}{n|)}', fill: '#000', align: 'center', verticalAlign: 'middle',
      rich: {
        v: { fontFamily: 'Liberation Serif', fontStyle: 'italic', fontSize: 40, verticalAlign: 'middle' },
        s: { fontFamily: 'Liberation Serif', fontSize: 26, verticalAlign: 'top', padding: [24, 0, 0, 0] },
        n: { fontFamily: FONT, fontSize: 36, verticalAlign: 'middle' },
        p: { fontFamily: FONT, fontSize: 25, verticalAlign: 'top', padding: [3, 0, 0, 2] },
      },
    },
  });

  return { animation: false, backgroundColor: '#fff', grid, xAxis, yAxis, series, graphic };
}

export default function App() {
  const ref = useRef<HTMLDivElement>(null);
  useEffect(() => {
    document.body.style.margin = '0';
    const chart = echarts.init(ref.current!, null, { renderer: 'svg' });
    chart.setOption(buildOption() as any);
    return () => chart.dispose();
  }, []);
  return <div ref={ref} style={{ width: 962, height: 1704 }} />;
}
